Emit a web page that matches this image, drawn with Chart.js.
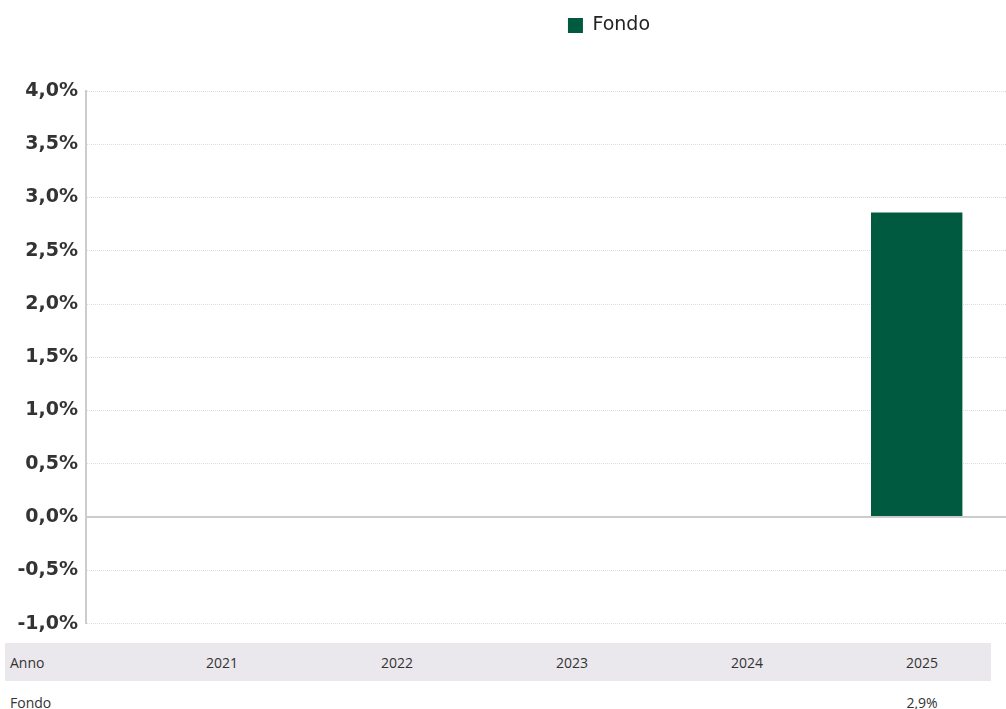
<!DOCTYPE html>
<html>
<head>
<meta charset="utf-8">
<script src="https://cdn.jsdelivr.net/npm/chart.js@4.4.1/dist/chart.umd.min.js"></script>
<style>
  html, body { margin: 0; padding: 0; background: #fff; }
  body { width: 1006px; height: 709px; position: relative; overflow: hidden; }
  #wrap { position: absolute; left: 0; top: 0; width: 1009px; height: 643px; }
  .band { position: absolute; left: 5px; top: 643px; width: 986px; height: 38px; background: #ebe8ed; }
  .row { position: absolute; left: 0; height: 38px; display: flex; align-items: center;
         font-family: "Open Sans", sans-serif; font-size: 14px; color: #333; white-space: nowrap; }
  .lab { width: 134.5px; padding-left: 10px; box-sizing: border-box; }
  .cell { width: 175px; text-align: center; }
</style>
</head>
<body>
<div id="wrap"><canvas id="c"></canvas></div>
<div class="band"></div>
<div class="row" id="rowAnno" style="top:643px"></div>
<div class="row" id="rowFondo" style="top:683px"></div>
<script>
const categories = ['2021', '2022', '2023', '2024', '2025'];
const fondoValues = [null, null, null, null, 2.86];
const seriesName = 'Fondo';
const rowLabel = 'Anno';
const yMin = -1, yMax = 4, yStep = 0.5;

const fmt = v => v.toFixed(1).replace('.', ',') + '%';

// table below the chart
const rA = document.getElementById('rowAnno');
const rF = document.getElementById('rowFondo');
rA.innerHTML = '<div class="lab">' + rowLabel + '</div>' + categories.map(c => '<div class="cell">' + c + '</div>').join('');
rF.innerHTML = '<div class="lab">' + seriesName + '</div>' + fondoValues.map(v => '<div class="cell">' + (v == null ? '' : fmt(v)) + '</div>').join('');

const legendTweak = {
  id: 'legendTweak',
  afterInit(chart) {
    const lg = chart.legend;
    const fit = lg.fit;
    lg.fit = function () { fit.call(this); this.height = 85; };
    const draw = lg.draw;
    lg.draw = function () {
      const l = this.left, r = this.right;
      this.left += 104.5; this.right += 104.5;
      draw.call(this);
      this.left = l; this.right = r;
    };
  }
};

new Chart(document.getElementById('c'), {
  type: 'bar',
  data: {
    labels: categories,
    datasets: [{
      label: seriesName,
      data: fondoValues,
      backgroundColor: '#005a3f',
      borderWidth: 0,
      categoryPercentage: 1,
      barPercentage: 0.495
    }]
  },
  options: {
    responsive: true,
    maintainAspectRatio: false,
    animation: false,
    layout: { padding: { top: 6, right: 0, bottom: 14, left: 0 } },
    plugins: {
      legend: {
        display: true,
        position: 'top',
        labels: {
          boxWidth: 15, boxHeight: 15, padding: 10,
          color: '#222',
          font: { family: '"DejaVu Sans", Verdana, sans-serif', size: 19 }
        }
      },
      tooltip: { enabled: false }
    },
    scales: {
      x: {
        display: false,
        grid: { display: false }
      },
      y: {
        min: yMin, max: yMax,
        afterFit(scale) { scale.width = 86; },
        ticks: {
          stepSize: yStep,
          padding: 8,
          color: '#333',
          font: { family: '"DejaVu Sans", Verdana, sans-serif', size: 19, weight: 'bold' },
          callback: v => fmt(v)
        },
        grid: {
          drawTicks: false,
          color: ctx => (ctx.tick && ctx.tick.value === 0) ? '#cccccc' : '#dddddd',
          lineWidth: ctx => (ctx.tick && ctx.tick.value === 0) ? 2 : 1
        },
        border: {
          display: true,
          color: '#cccccc',
          width: 2,
          dash: ctx => (ctx.tick && ctx.tick.value === 0) ? [] : [1, 1]
        }
      }
    }
  },
  plugins: [legendTweak]
});
</script>
</body>
</html>
